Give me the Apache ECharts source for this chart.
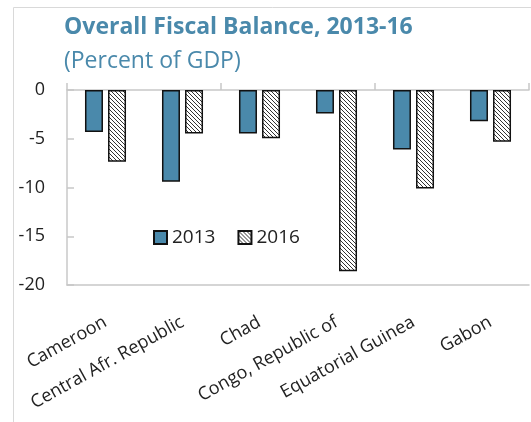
<!DOCTYPE html>
<html>
<head>
<meta charset="utf-8">
<script src="https://cdn.jsdelivr.net/npm/echarts@6/dist/echarts.min.js"></script>
<style>
  html, body { margin: 0; padding: 0; background: #fff; }
  #chart { width: 531px; height: 422px; }
</style>
</head>
<body>
<div id="chart"></div>
<script>
// data
const countries = ['Cameroon', 'Central Afr. Republic', 'Chad', 'Congo, Republic of', 'Equatorial Guinea', 'Gabon'];
const years = ['2013', '2016'];
const balance2013 = [-4.3, -9.4, -4.45, -2.4, -6.1, -3.2];
const balance2016 = [-7.35, -4.45, -4.95, -18.6, -10.1, -5.3];

const blue = '#4a89ab';
const font = '"Open Sans", sans-serif';

// diagonal hatch for 2016 bars
function makeHatch() {
  const c = document.createElement('canvas');
  c.width = 4;
  c.height = 4;
  const ctx = c.getContext('2d');
  ctx.fillStyle = '#fff';
  ctx.fillRect(0, 0, 4, 4);
  ctx.strokeStyle = '#333';
  ctx.lineWidth = 1;
  ctx.beginPath();
  ctx.moveTo(-1, -1); ctx.lineTo(5, 5);
  ctx.moveTo(-1, 3); ctx.lineTo(1, 5);
  ctx.moveTo(3, -1); ctx.lineTo(5, 1);
  ctx.stroke();
  return c;
}

const chart = echarts.init(document.getElementById('chart'));
chart.setOption({
  animation: false,
  textStyle: { fontFamily: font },
  graphic: [
    {
      type: 'rect',
      shape: { x: 13.5, y: 7.5, width: 600, height: 500 },
      style: { fill: 'none', stroke: '#d9d9d9', lineWidth: 1 }
    },
    {
      type: 'text',
      left: 64,
      top: 16,
      style: { text: 'Overall Fiscal Balance, 2013-16', fill: blue, font: 'bold 23px ' + font }
    },
    {
      type: 'text',
      left: 64,
      top: 50,
      style: { text: '(Percent of GDP)', fill: blue, font: '23px ' + font }
    }
  ],
  grid: { left: 67, top: 90, right: 2, bottom: 137, containLabel: false },
  legend: {
    data: years,
    icon: 'rect',
    left: 148,
    top: 223,
    itemWidth: 13,
    itemHeight: 13,
    itemGap: 22,
    textStyle: { fontSize: 19, color: '#222', fontFamily: font }
  },
  xAxis: [
    {
      type: 'category',
      data: countries,
      position: 'bottom',
      axisLine: { onZero: false, lineStyle: { color: '#c8c8c8', width: 1.5 } },
      axisTick: { show: false },
      axisLabel: { rotate: 29, margin: 36, fontSize: 18, color: '#222', interval: 0 }
    },
    {
      type: 'category',
      data: countries,
      position: 'top',
      axisLine: { onZero: false, lineStyle: { color: '#c8c8c8', width: 1.5 } },
      axisTick: { show: true, length: 7, lineStyle: { color: '#c8c8c8', width: 1.5 } },
      axisLabel: { show: false }
    }
  ],
  yAxis: {
    type: 'value',
    min: -20,
    max: 0,
    interval: 5,
    axisLine: { show: true, lineStyle: { color: '#c8c8c8', width: 1.5 } },
    axisTick: { show: true, inside: true, length: 7, lineStyle: { color: '#c8c8c8', width: 1.5 } },
    splitLine: { show: false },
    axisLabel: { fontSize: 18, color: '#222', margin: 22 }
  },
  series: [
    {
      name: years[0],
      type: 'bar',
      data: balance2013,
      barWidth: 18,
      barGap: '28%',
      itemStyle: { color: blue, borderColor: '#111', borderWidth: 1.5 }
    },
    {
      name: years[1],
      type: 'bar',
      data: balance2016,
      barWidth: 18,
      itemStyle: {
        color: { image: makeHatch(), repeat: 'repeat' },
        borderColor: '#111',
        borderWidth: 1.5
      }
    }
  ]
});
</script>
</body>
</html>
